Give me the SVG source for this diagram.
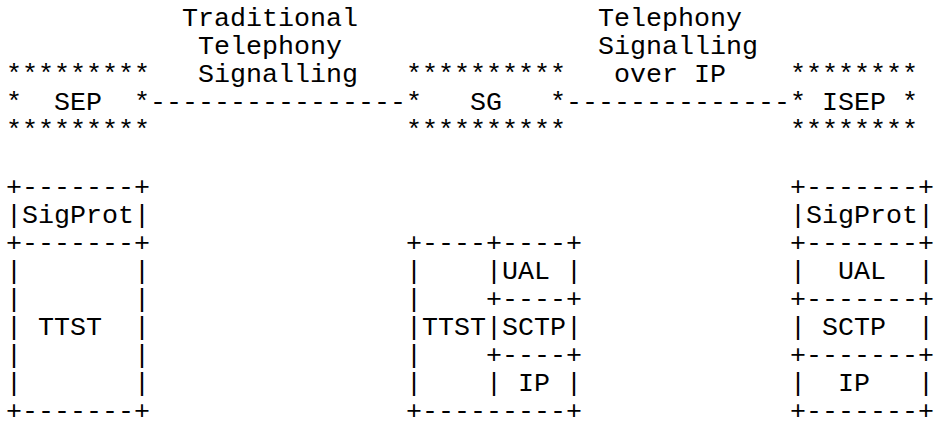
<svg xmlns="http://www.w3.org/2000/svg" width="935" height="435" viewBox="0 0 935 435">
<style>
text{font-family:"Liberation Mono","DejaVu Sans Mono",monospace;font-size:26.667px;fill:#000;white-space:pre}
</style>
<rect width="935" height="435" fill="#fff"/>
<g id="labels" xml:space="preserve">
<text x="182" y="26">Traditional</text>
<text x="198" y="54.1">Telephony</text>
<text x="198" y="82.2">Signalling</text>
<text x="598" y="26">Telephony</text>
<text x="598" y="54.1">Signalling</text>
<text x="614" y="82.2">over IP</text>
</g>
<g id="SEP" xml:space="preserve">
<text x="6" y="82.2">*********</text>
<text x="6" y="110.3">*  SEP  *</text>
<text x="6" y="138.4">*********</text>
</g>
<g id="SG" xml:space="preserve">
<text x="406" y="82.2">**********</text>
<text x="406" y="110.3">*   SG   *</text>
<text x="406" y="138.4">**********</text>
</g>
<g id="ISEP" xml:space="preserve">
<text x="790" y="82.2">********</text>
<text x="790" y="110.3">* ISEP *</text>
<text x="790" y="138.4">********</text>
</g>
<g id="connectors" xml:space="preserve">
<text x="150" y="110.3">----------------</text>
<text x="566" y="110.3">--------------</text>
</g>
<g id="SEP-stack" xml:space="preserve">
<text x="6" y="194.6">+-------+</text>
<text x="6" y="222.7">|SigProt|</text>
<text x="6" y="250.8">+-------+</text>
<text x="6" y="278.9">|       |</text>
<text x="6" y="307">|       |</text>
<text x="6" y="335.1">| TTST  |</text>
<text x="6" y="363.2">|       |</text>
<text x="6" y="391.3">|       |</text>
<text x="6" y="419.4">+-------+</text>
</g>
<g id="SG-stack" xml:space="preserve">
<text x="406" y="250.8">+----+----+</text>
<text x="406" y="278.9">|    |UAL |</text>
<text x="406" y="307">|    +----+</text>
<text x="406" y="335.1">|TTST|SCTP|</text>
<text x="406" y="363.2">|    +----+</text>
<text x="406" y="391.3">|    | IP |</text>
<text x="406" y="419.4">+---------+</text>
</g>
<g id="ISEP-stack" xml:space="preserve">
<text x="790" y="194.6">+-------+</text>
<text x="790" y="222.7">|SigProt|</text>
<text x="790" y="250.8">+-------+</text>
<text x="790" y="278.9">|  UAL  |</text>
<text x="790" y="307">+-------+</text>
<text x="790" y="335.1">| SCTP  |</text>
<text x="790" y="363.2">+-------+</text>
<text x="790" y="391.3">|  IP   |</text>
<text x="790" y="419.4">+-------+</text>
</g>
</svg>
